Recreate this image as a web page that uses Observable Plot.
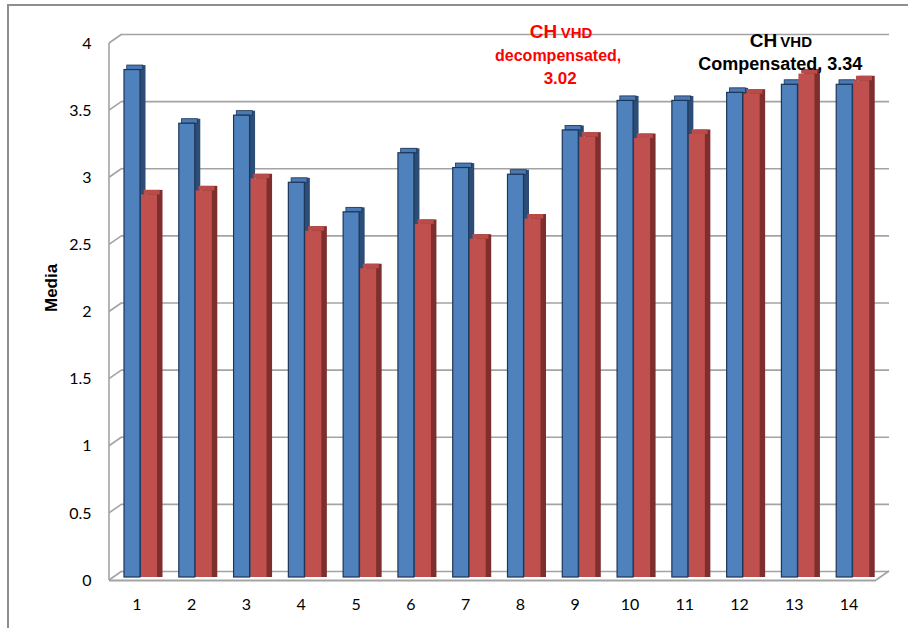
<!DOCTYPE html>
<html><head><meta charset="utf-8">
<script src="https://cdn.jsdelivr.net/npm/d3@7"></script>
<script src="https://cdn.jsdelivr.net/npm/@observablehq/plot@0.6"></script>
<style>
html,body{margin:0;padding:0;background:#fff;}
#wrap{position:relative;width:908px;height:628px;overflow:hidden;}
#border{position:absolute;left:7px;top:4px;width:940px;height:660px;border-top:2px solid #8e8e8e;border-left:2px solid #8e8e8e;}
#chart{position:absolute;left:0;top:0;}
</style></head><body>
<div id="wrap"><div id="border"></div><div id="chart"></div></div>
<script>
const categories = ["1","2","3","4","5","6","7","8","9","10","11","12","13","14"];
const compensated   = [3.78, 3.38, 3.44, 2.94, 2.72, 3.16, 3.05, 3.00, 3.33, 3.55, 3.55, 3.61, 3.67, 3.67];
const decompensated = [2.85, 2.88, 2.97, 2.58, 2.30, 2.63, 2.52, 2.67, 3.28, 3.27, 3.30, 3.60, 3.75, 3.70];
const yTicks = [0, 0.5, 1, 1.5, 2, 2.5, 3, 3.5, 4];
const yLabel = "Media";
const redNote = ["CH", "VHD", "decompensated,", "3.02"];
const blackNote = ["CH", "VHD", "Compensated, 3.34"];

const blueRows = categories.map((c, i) => ({cat: c, value: compensated[i]}));
const redRows = categories.map((c, i) => ({cat: c, value: decompensated[i]}));

const DX = 5.5, DY = 4.5, MID = 3;
const bw = (908 - 109 - 32) / categories.length;
const blueInset = {insetLeft: 15, insetRight: bw - 31};
const redInset = {insetLeft: 32, insetRight: bw - 48};

function bar3d(rows, inset, front, side, top, stroke) {
  return [
    Plot.barY(rows, {x: "cat", y: "value", ...inset, dx: DX, dy: -MID - DY, insetBottom: -DY, fill: side}),
    Plot.barY(rows, {x: "cat", y1: "value", y2: "value", ...inset, insetTop: -DY, insetBottom: 0, dx: DX / 2, dy: -MID, fill: top, stroke: stroke, strokeWidth: 0.8}),
    Plot.barY(rows, {x: "cat", y: "value", ...inset, dy: -MID, fill: front, stroke: stroke, strokeWidth: stroke === "none" ? 0 : 1.2})
  ];
}

function sideWall(index, scales, values, dims) {
  const g = d3.create("svg:g").attr("stroke", "#a3a3a3").attr("stroke-width", 1.6).attr("fill", "none");
  const x0 = dims.marginLeft, x1 = dims.width - dims.marginRight;
  for (const t of yTicks) {
    const y = scales.y(t);
    g.append("line").attr("x1", x0).attr("y1", y).attr("x2", x0 + 13).attr("y2", y - 9);
  }
  g.append("line").attr("x1", x0).attr("y1", scales.y(0)).attr("x2", x0).attr("y2", scales.y(4));
  g.append("line").attr("x1", x1).attr("y1", scales.y(0)).attr("x2", x1 + 13).attr("y2", scales.y(0) - 9);
  return g.node();
}

const noteFont = "'Liberation Sans', Arial, sans-serif";
const chart = Plot.plot({
  width: 908, height: 628,
  marginLeft: 109, marginRight: 32, marginTop: 43, marginBottom: 48,
  style: {fontFamily: "Lato, sans-serif", fontSize: "16px", color: "#000", background: "transparent", overflow: "visible"},
  x: {type: "band", domain: categories, padding: 0, round: false, label: null},
  y: {domain: [0, 4], label: null},
  marks: [
    Plot.ruleY(yTicks, {dx: 13, dy: -9, stroke: "#a3a3a3", strokeWidth: 1.6}),
    sideWall,
    Plot.ruleY([0], {stroke: "#a3a3a3", strokeWidth: 2}),
    ...bar3d(blueRows, blueInset, "#4f81bd", "#2c4d75", "#4a7ab4", "#1d3557"),
    ...bar3d(redRows, redInset, "#c0504d", "#7e2f2d", "#b94b48", "none"),
    Plot.axisX({tickSize: 0, tickPadding: 18, fontSize: 16}),
    Plot.axisY({ticks: yTicks, tickFormat: d => String(d), tickSize: 0, tickPadding: 18, fontSize: 16}),
    Plot.text([yLabel], {text: d => d, frameAnchor: "left", dx: -58, rotate: -90, fontWeight: "bold", fontSize: 17, fontFamily: noteFont}),
    // red annotation
    Plot.text([redNote[0]], {text: d => d, x: () => "9", frameAnchor: "top", lineAnchor: "bottom", textAnchor: "end", dx: -18, dy: -6, fill: "#ff0000", fontWeight: "bold", fontSize: 19, fontFamily: noteFont}),
    Plot.text([redNote[1]], {text: d => d, x: () => "9", frameAnchor: "top", lineAnchor: "bottom", textAnchor: "start", dx: -14.5, dy: -6, fill: "#ff0000", fontWeight: "bold", fontSize: 15, fontFamily: noteFont}),
    Plot.text([redNote[2]], {text: d => d, x: () => "9", frameAnchor: "top", lineAnchor: "bottom", dx: -17, dy: 17, fill: "#ff0000", fontWeight: "bold", fontSize: 16, fontFamily: noteFont}),
    Plot.text([redNote[3]], {text: d => d, x: () => "9", frameAnchor: "top", lineAnchor: "bottom", dx: -15, dy: 40, fill: "#ff0000", fontWeight: "bold", fontSize: 17, fontFamily: noteFont}),
    // black annotation
    Plot.text([blackNote[0]], {text: d => d, x: () => "13", frameAnchor: "top", lineAnchor: "bottom", textAnchor: "end", dx: -17, dy: 3, fill: "#000", fontWeight: "bold", fontSize: 19, fontFamily: noteFont}),
    Plot.text([blackNote[1]], {text: d => d, x: () => "13", frameAnchor: "top", lineAnchor: "bottom", textAnchor: "start", dx: -14, dy: 3, fill: "#000", fontWeight: "bold", fontSize: 15, fontFamily: noteFont}),
    Plot.text([blackNote[2]], {text: d => d, x: () => "13", frameAnchor: "top", lineAnchor: "bottom", dx: -14, dy: 26, fill: "#000", fontWeight: "bold", fontSize: 18, fontFamily: noteFont})
  ]
});
document.getElementById("chart").append(chart);
</script>
</body></html>
